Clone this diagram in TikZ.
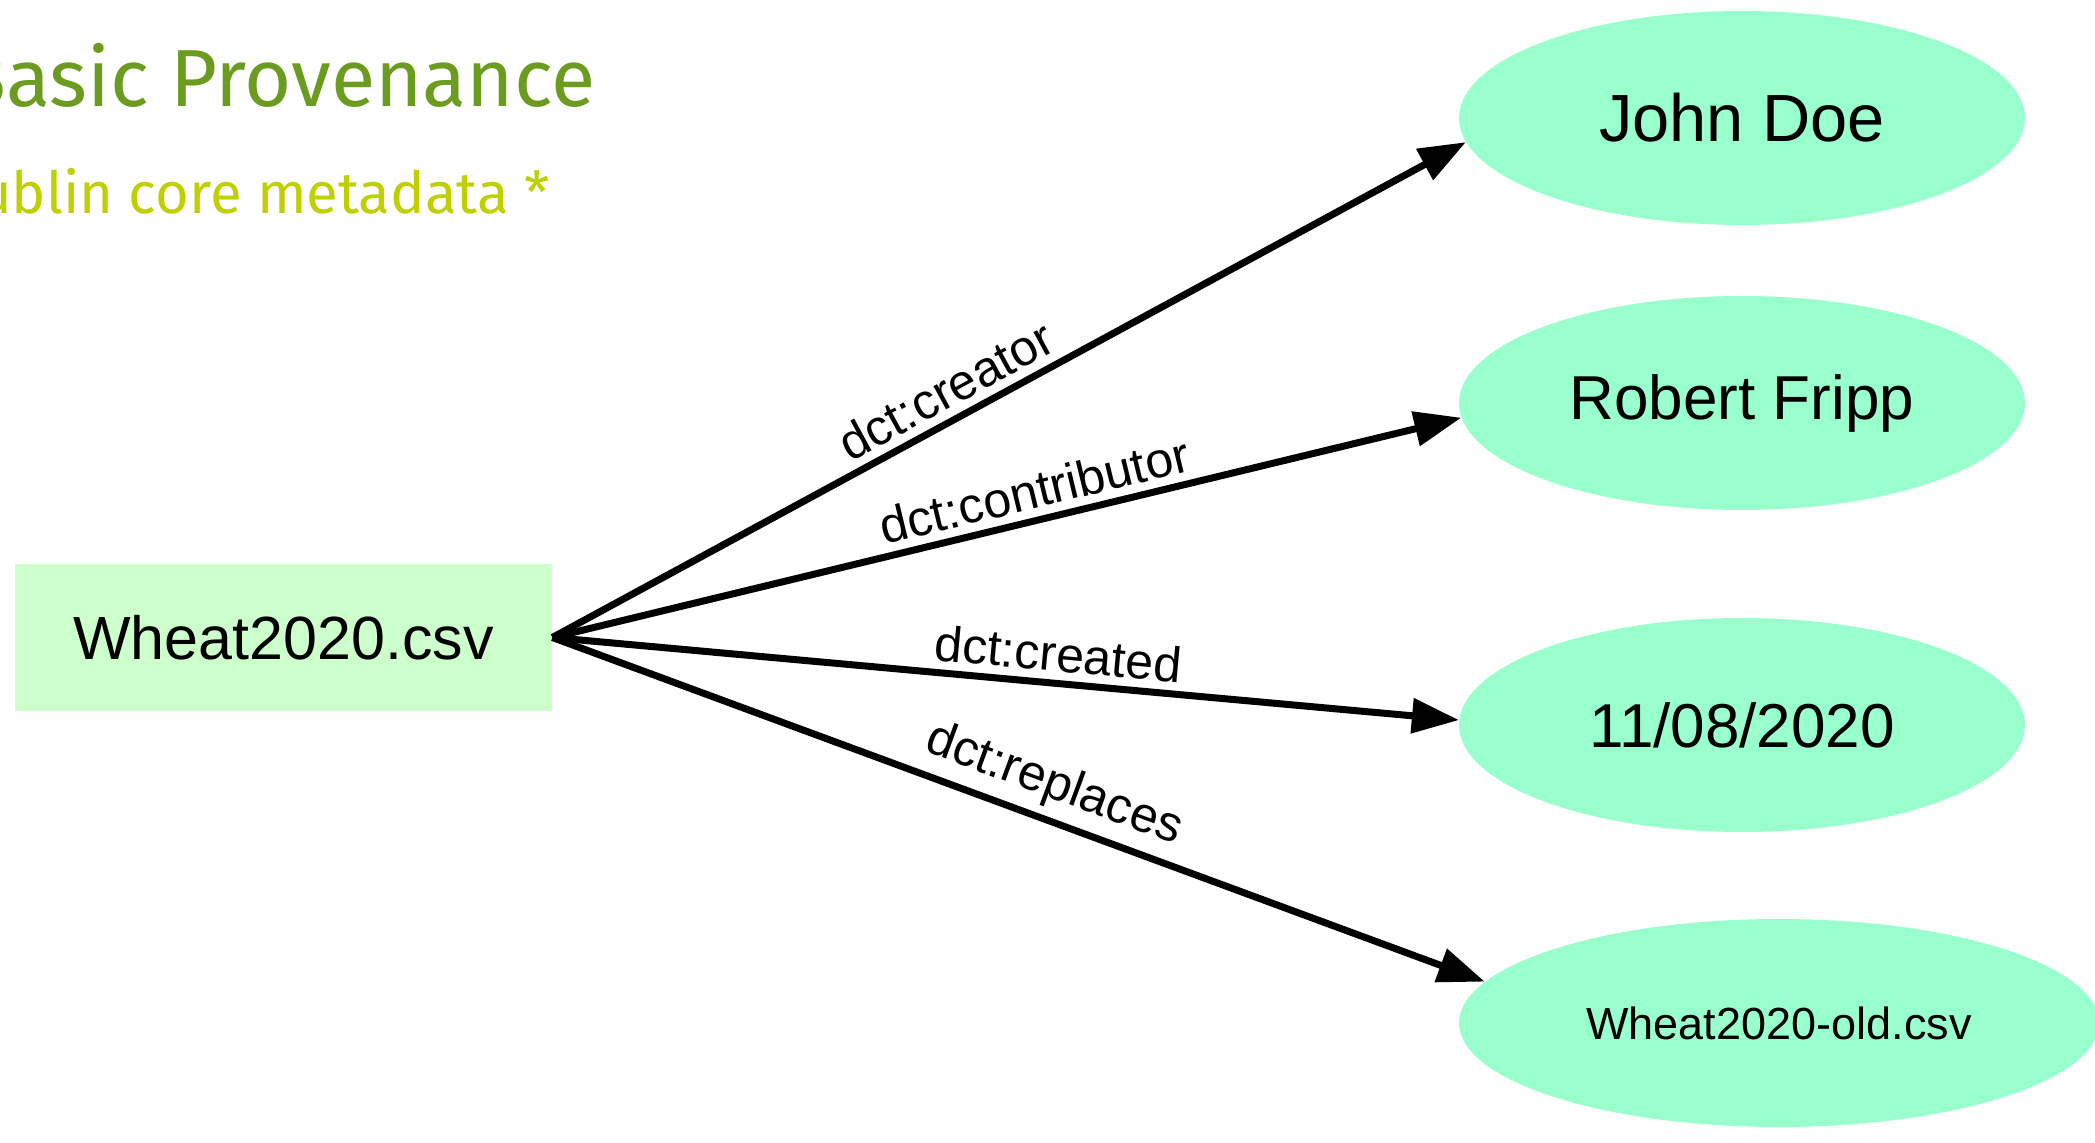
\documentclass[tikz,border=0pt]{standalone}
\usepackage{fontspec}
\setmainfont{Liberation Sans}
\newfontfamily\headfont{Fira Sans}
\usetikzlibrary{shapes.geometric,arrows.meta}

\definecolor{headgreen}{HTML}{6B9B1F}
\definecolor{subyellow}{HTML}{BED000}
\definecolor{filebox}{HTML}{CCFFCC}
\definecolor{valuefill}{HTML}{99FFCC}

\tikzset{
  filenode/.style={rectangle, fill=filebox, minimum width=268.5pt, minimum height=73.5pt,
    inner sep=0pt, font=\fontsize{30.5}{36}\selectfont},
  valuenode/.style={ellipse, fill=valuefill, minimum width=283pt, minimum height=107pt,
    inner sep=0pt, font=\fontsize{31}{37}\selectfont},
  link/.style={line width=3.5pt, -{Triangle[length=23.5pt,width=17pt]}},
  linklabel/.style={sloped, above, inner sep=4pt, font=\fontsize{25}{30}\selectfont},
}

\begin{document}
\begin{tikzpicture}[x=0.5pt, y=-0.5pt]
  \useasboundingbox (0,0) rectangle (2095,1143);
  \clip (0,0) rectangle (2095,1143);

  % headings
  \node[anchor=base east, inner sep=0pt, text=headgreen, font=\headfont\fontsize{40.5}{48}\selectfont]
    (title) at (596,107) {Basic Provenance};
  \node[anchor=base east, inner sep=0pt, text=subyellow, font=\headfont\fontsize{29}{35}\selectfont]
    (subtitle) at (550,214) {Dublin core metadata *};

  % nodes
  \node[filenode] (file) at (283.5,637.5) {Wheat2020.csv};
  \node[valuenode, font=\fontsize{33.4}{40}\selectfont] (john) at (1742,118) {John Doe};
  \node[valuenode] (robert) at (1742,403) {Robert Fripp};
  \node[valuenode] (date) at (1742,725) {11/08/2020};
  \node[valuenode, minimum width=320pt, minimum height=104pt, font=\fontsize{22.5}{27}\selectfont]
    (old) at (1779,1023) {Wheat2020-old.csv};

  % relations
  \draw[link] (file.east) -- node[linklabel, pos=0.446] {dct:creator} (john.185);
  \draw[link] (file.east) -- node[linklabel, pos=0.538] {dct:contributor} (robert.183);
  \draw[link] (file.east) -- node[linklabel, pos=0.555] {dct:created} (date.179);
  \draw[link] (file.east) -- node[linklabel, pos=0.525] {dct:replaces} (old.172);
\end{tikzpicture}
\end{document}
